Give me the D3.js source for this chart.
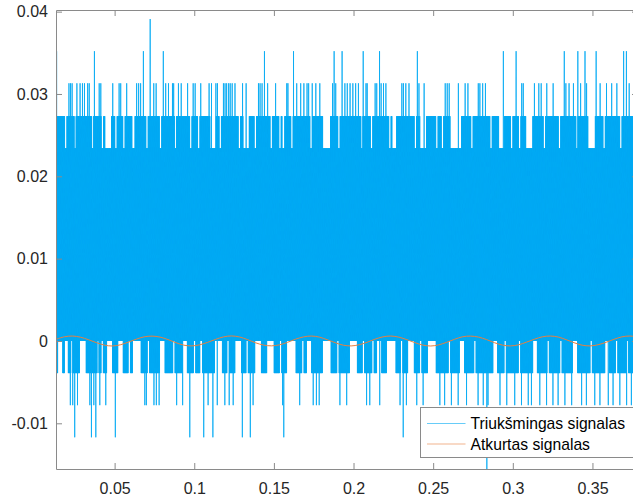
<!DOCTYPE html>
<html>
<head>
<meta charset="utf-8">
<script src="https://cdn.jsdelivr.net/npm/d3@7"></script>
<style>
  html, body { margin: 0; padding: 0; background: #fff; overflow: hidden; }
  svg { display: block; }
</style>
</head>
<body>
<svg id="chart" width="633" height="497"></svg>
<script>
// ---- axis ranges and ticks ----
const timeDomain = [0.0132, 0.3786];
const ampDomain = [-0.01555, 0.0402];
const xTicks = [0.05, 0.1, 0.15, 0.2, 0.25, 0.3, 0.35];
const xTickLabels = ["0.05", "0.1", "0.15", "0.2", "0.25", "0.3", "0.35"];
const yTicks = [-0.01, 0, 0.01, 0.02, 0.03, 0.04];
const yTickLabels = ["-0.01", "0", "0.01", "0.02", "0.03", "0.04"];
const seriesNames = ["Triukšmingas signalas", "Atkurtas signalas"];

// ---- noisy signal (quantised amplitude levels) ----
// dense band that every stretch of the trace covers
const coreLow = 0;
const coreHigh = 0.0234;
// upper levels
const level0273 = 0.0273;
const level0313 = 0.0313;
const level0352 = 0.0352;
const level0391 = 0.0391;
// lower levels
const dip0039 = -0.0039;
const dip0078 = -0.0078;
const dip0117 = -0.0117;
const dip0156 = -0.0156;

// stretches where the trace stays below 0.0273
const topGaps = [[0.0440,0.0480],[0.0609,0.0626],[0.1100,0.1134],[0.1306,0.1345],[0.1551,0.1568],
  [0.1808,0.1855],[0.2241,0.2270],[0.2417,0.2458],[0.2606,0.2676],[0.2913,0.2948],[0.3083,0.3124],
  [0.3472,0.3518],
  [0.0188,0.0200],[0.0248,0.0258],[0.0356,0.0366],[0.0418,0.0430],[0.0503,0.0515],[0.0553,0.0565],
  [0.0698,0.0710],[0.0783,0.0795],[0.0876,0.0888],[0.0972,0.0984],[0.1022,0.1034],[0.1158,0.1170],
  [0.1278,0.1290],[0.1378,0.1390],[0.1478,0.1490],[0.1533,0.1545],[0.1608,0.1620],[0.1728,0.1740],
  [0.1903,0.1915],[0.2048,0.2058],[0.2108,0.2120],[0.2223,0.2235],[0.2383,0.2395],[0.2518,0.2530],
  [0.2553,0.2565],[0.2738,0.2750],[0.2858,0.2870],[0.2988,0.3000],[0.3038,0.3050],[0.3193,0.3205],
  [0.3288,0.3300],[0.3398,0.3406],[0.3568,0.3580],[0.3673,0.3685],[0.3755,0.3767]];
// times of peaks reaching 0.0313
const peaks0313 = [0.0213,0.0224,0.0234,0.0262,0.0283,0.0297,0.0312,0.0331,0.0341,0.0402,0.0413,
  0.0488,0.0529,0.0538,0.0576,0.0639,0.0651,0.0664,0.0745,0.0760,0.0821,0.0839,0.0862,0.0871,0.0900,
  0.0917,0.0959,0.0994,0.1005,0.1040,0.1094,0.1109,0.1135,0.1145,0.1182,0.1193,0.1204,0.1216,0.1226,
  0.1237,0.1256,0.1302,0.1325,0.1402,0.1413,0.1425,0.1461,0.1511,0.1580,0.1589,0.1643,0.1668,0.1689,
  0.1708,0.1718,0.1741,0.1764,0.1789,0.1867,0.1888,0.1946,0.1961,0.1978,0.1995,0.2014,0.2030,0.2078,
  0.2086,0.2135,0.2145,0.2172,0.2187,0.2204,0.2302,0.2312,0.2329,0.2348,0.2411,0.2442,0.2576,0.2589,
  0.2601,0.2658,0.2700,0.2717,0.2783,0.2794,0.2811,0.2827,0.3056,0.3066,0.3135,0.3164,0.3179,0.3213,
  0.3254,0.3334,0.3353,0.3380,0.3426,0.3464,0.3547,0.3589,0.3621,0.3652,0.3731];
// times of peaks reaching 0.0352
const peaks0352 = [0.0136,0.0372,0.0680,0.0806,0.1440,0.1623,0.1877,0.1928,0.2060,0.2162,0.2401,
  0.2941,0.3020,0.3322,0.3408,0.3453,0.3523,0.3695,0.3714];
// times of peaks reaching 0.0391
const peaks0391 = [0.0724];

// stretches where the trace does not drop below 0
const bottomGaps = [[0.0144,0.0174],[0.0188,0.0210],[0.0283,0.0322],[0.0452,0.0486],[0.0521,0.0555],
  [0.0615,0.0668],[0.0785,0.0818],[0.0929,0.0958],[0.1036,0.1052],[0.1130,0.1176],[0.1256,0.1296],
  [0.1381,0.1421],[0.1457,0.1503],[0.1582,0.1640],[0.1708,0.1736],[0.1808,0.1860],[0.1978,0.2024],
  [0.2147,0.2176],[0.2210,0.2268],[0.2342,0.2382],[0.2467,0.2520],[0.2668,0.2697],[0.2876,0.2904],
  [0.3127,0.3155],[0.3378,0.3406],[0.3579,0.3607],
  [0.0228,0.0236],[0.0392,0.0402],[0.0418,0.0430],[0.0588,0.0600],[0.0708,0.0720],[0.0868,0.0880],
  [0.0998,0.1010],[0.1208,0.1220],[0.1328,0.1340],[0.1538,0.1550],[0.1678,0.1690],[0.1898,0.1910],
  [0.2058,0.2070],[0.2118,0.2130],[0.2298,0.2310],[0.2418,0.2430],[0.2598,0.2610],[0.2758,0.2770],
  [0.2948,0.2960],[0.3038,0.3050],[0.3218,0.3230],[0.3298,0.3310],[0.3488,0.3500],[0.3648,0.3660],
  [0.3718,0.3728]];
// times of dips reaching -0.0078
const dips0078 = [0.0224,0.0237,0.0268,0.0345,0.0370,0.0408,0.0446,0.0691,0.0701,0.0747,0.0764,0.0780,
  0.0890,0.0927,0.1088,0.1145,0.1193,0.1220,0.1245,0.1371,0.1555,0.1664,0.1747,0.1769,0.1785,0.1915,
  0.1957,0.2083,0.2103,0.2166,0.2292,0.2334,0.2397,0.2438,0.2543,0.2574,0.2616,0.2658,0.2710,0.2783,
  0.2815,0.2846,0.2920,0.2962,0.3014,0.3056,0.3097,0.3119,0.3171,0.3213,0.3254,0.3286,0.3328,0.3370,
  0.3432,0.3464,0.3516,0.3547,0.3600,0.3631,0.3673,0.3715,0.3746];
// times of dips reaching -0.0117
const dips0117 = [0.0251,0.0356,0.0383,0.0505,0.0973,0.1061,0.1118,0.1304,0.1354,0.1563,0.2314];
// times of dips reaching -0.0156
const dips0156 = [0.2838];

// ---- recovered signal, sampled every 5 ms from t = 0.0135 s ----
const recoveredStart = 0.0135;
const recoveredStep = 0.005;
const recovered = [
  0.00022, 0.00051, 0.00060, 0.00046, 0.00016, -0.00020, -0.00050, -0.00061, -0.00047, -0.00015,
  0.00021, 0.00050, 0.00059, 0.00047, 0.00017, -0.00021, -0.00051, -0.00060, -0.00046, -0.00016,
  0.00020, 0.00050, 0.00061, 0.00048, 0.00016, -0.00022, -0.00050, -0.00059, -0.00047, -0.00017,
  0.00021, 0.00049, 0.00060, 0.00047, 0.00015, -0.00021, -0.00051, -0.00060, -0.00046, -0.00016,
  0.00022, 0.00050, 0.00060, 0.00046, 0.00016, -0.00020, -0.00050, -0.00061, -0.00047, -0.00016,
  0.00021, 0.00051, 0.00059, 0.00047, 0.00017, -0.00021, -0.00050, -0.00060, -0.00047, -0.00015,
  0.00021, 0.00050, 0.00060, 0.00048, 0.00016, -0.00021, -0.00051, -0.00060, -0.00046, -0.00016,
  0.00020, 0.00050, 0.00060, 0.00047
];

// ---- layout ----
const plot = { left: 56, right: 638, top: 10, bottom: 469 };
const colors = { noisy: "#00a9f4", recovered: "#e8803f", axis: "#8a8a8a", text: "#262626" };
const fontFamily = "'Liberation Sans', Arial, Helvetica, sans-serif";

const svg = d3.select("#chart");
const x = d3.scaleLinear().domain(timeDomain).range([plot.left, plot.right]);
const y = d3.scaleLinear().domain(ampDomain).range([plot.bottom, plot.top]);

svg.append("defs").append("clipPath").attr("id", "plot-clip")
  .append("rect")
  .attr("x", plot.left).attr("y", plot.top)
  .attr("width", plot.right - plot.left).attr("height", plot.bottom - plot.top);

// Build the noisy trace: each short time slot swings from its lowest to its highest level
const slot = 0.00025;
const nSlots = Math.ceil((timeDomain[1] - timeDomain[0]) / slot);
const inside = (t, spans) => spans.some(([a, b]) => t >= a && t < b);
const hits = (t, list) => list.some(s => s >= t && s < t + slot);
const noisyPoints = [];
for (let i = 0; i < nSlots; i++) {
  const t = timeDomain[0] + i * slot;
  const mid = t + slot / 2;
  let hi = inside(mid, topGaps) ? coreHigh : level0273;
  if (hits(t, peaks0313)) hi = level0313;
  if (hits(t, peaks0352)) hi = level0352;
  if (hits(t, peaks0391)) hi = level0391;
  let lo = inside(mid, bottomGaps) ? coreLow : dip0039;
  if (hits(t, dips0078)) lo = dip0078;
  if (hits(t, dips0117)) lo = dip0117;
  if (hits(t, dips0156)) lo = dip0156;
  noisyPoints.push([t, lo], [mid, hi]);
}

const plotArea = svg.append("g").attr("clip-path", "url(#plot-clip)");

plotArea.append("path")
  .datum(noisyPoints)
  .attr("fill", "none")
  .attr("stroke", colors.noisy)
  .attr("stroke-width", 0.8)
  .attr("d", d3.line().x(d => x(d[0])).y(d => y(d[1])));

plotArea.append("path")
  .datum(recovered.map((v, i) => [recoveredStart + i * recoveredStep, v]))
  .attr("fill", "none")
  .attr("stroke", colors.recovered)
  .attr("stroke-width", 1)
  .attr("d", d3.line().x(d => x(d[0])).y(d => y(d[1])).curve(d3.curveCatmullRom));

// ---- axes (boxed, ticks pointing inward) ----
function styleAxis(g) {
  g.select(".domain").attr("stroke", colors.axis);
  g.selectAll(".tick line").attr("stroke", colors.axis);
  g.selectAll(".tick text")
    .attr("fill", colors.text)
    .style("font-family", fontFamily)
    .style("font-size", "16px");
}

svg.append("g")
  .attr("transform", `translate(0,${plot.bottom})`)
  .call(d3.axisBottom(x).tickValues(xTicks)
    .tickFormat((d, i) => xTickLabels[i]).tickSizeInner(-6).tickSizeOuter(0).tickPadding(14))
  .call(styleAxis);

svg.append("g")
  .attr("transform", `translate(0,${plot.top})`)
  .call(d3.axisTop(x).tickValues(xTicks).tickFormat("").tickSizeInner(-6).tickSizeOuter(0))
  .call(styleAxis);

svg.append("g")
  .attr("transform", `translate(${plot.left},0)`)
  .call(d3.axisLeft(y).tickValues(yTicks)
    .tickFormat((d, i) => yTickLabels[i]).tickSizeInner(-6).tickSizeOuter(0).tickPadding(8))
  .call(styleAxis);

svg.append("g")
  .attr("transform", `translate(${plot.right},0)`)
  .call(d3.axisRight(y).tickValues(yTicks).tickFormat("").tickSizeInner(-6).tickSizeOuter(0))
  .call(styleAxis);

// ---- legend ----
const legend = svg.append("g").attr("transform", "translate(420.5,407.5)");
legend.append("rect")
  .attr("width", 214).attr("height", 50)
  .attr("fill", "#fff").attr("stroke", colors.axis).attr("stroke-width", 1);
[colors.noisy, colors.recovered].forEach((c, i) => {
  const row = legend.append("g").attr("transform", `translate(0,${16 + i * 20.5})`);
  row.append("line")
    .attr("x1", 6.5).attr("x2", 45)
    .attr("stroke", c).attr("stroke-width", 0.8).attr("stroke-opacity", 0.75);
  row.append("text")
    .attr("x", 50).attr("dy", "0.35em")
    .attr("fill", "#000")
    .style("font-family", fontFamily)
    .style("font-size", "15.7px")
    .text(seriesNames[i]);
});
</script>
</body>
</html>
